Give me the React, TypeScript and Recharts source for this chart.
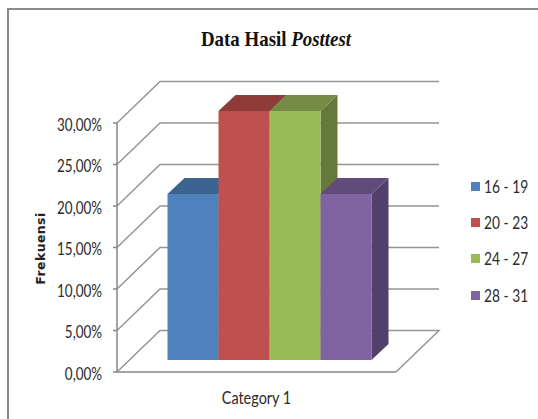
import { Bar, BarChart, CartesianGrid, Legend, XAxis, YAxis } from "recharts";

const categories = ["Category 1"];
const seriesNames = ["16 - 19", "20 - 23", "24 - 27", "28 - 31"];
const seriesValues = [20, 30, 30, 20];
const yTicks = [0, 5, 10, 15, 20, 25, 30];

const frontColors = ["#4f81bd", "#c0504d", "#9bbb59", "#8064a2"];
const topColors = ["#3d6491", "#8e3b39", "#748c43", "#604b7a"];
const sideColors = ["#355780", "#7d3432", "#657a3a", "#533f6b"];

const chartData = categories.map((category) => {
  const row: Record<string, string | number> = { category };
  seriesNames.forEach((name, i) => {
    row[name] = seriesValues[i];
  });
  return row;
});

const WALL_DX = 43;
const WALL_DY = 41.5;
const BAR_SHIFT_X = 12.5;
const BAR_SHIFT_Y = 12;
const BAR_DEPTH_X = 17;
const BAR_DEPTH_Y = 16;
const FLOOR_Y = 372;
const LINE_COLOR = "#959595";
const TEXT_FONT = "Lato, sans-serif";
const TEXT_COLOR = "#2b2b2b";

const formatPercent = (v: number) => `${v.toFixed(2).replace(".", ",")}%`;

const WallLine = (props: any) => {
  const { x1, x2, y1 } = props;
  const backY = y1 - WALL_DY;
  const isFloor = y1 >= FLOOR_Y - 1;
  const points = isFloor
    ? `${x1},${y1} ${x1 + WALL_DX},${backY} ${x2 + WALL_DX},${backY} ${x2},${y1}`
    : `${x1},${y1} ${x1 + WALL_DX},${backY} ${x2 + WALL_DX},${backY}`;
  return <polyline points={points} fill="none" stroke={LINE_COLOR} strokeWidth={1.5} />;
};

const Bar3D = (props: any) => {
  const { x, y, width, height, fill, topFill, sideFill } = props;
  const left = x + BAR_SHIFT_X;
  const top = y - BAR_SHIFT_Y;
  const right = left + width;
  const bottom = top + height;
  return (
    <g>
      <polygon
        points={`${right},${top} ${right + BAR_DEPTH_X},${top - BAR_DEPTH_Y} ${right + BAR_DEPTH_X},${bottom - BAR_DEPTH_Y} ${right},${bottom}`}
        fill={sideFill}
      />
      <polygon
        points={`${left},${top} ${left + BAR_DEPTH_X},${top - BAR_DEPTH_Y} ${right + BAR_DEPTH_X},${top - BAR_DEPTH_Y} ${right},${top}`}
        fill={topFill}
      />
      <rect x={left} y={top} width={width} height={height} fill={fill} />
    </g>
  );
};

// narrowed Lato stands in for the Calibri of the original
const YTick = ({ x, y, payload, tickFormatter }: any) => (
  <text
    transform={`translate(${x} ${y + 1}) scale(0.79 1)`}
    textAnchor="end"
    dominantBaseline="central"
    fontFamily={TEXT_FONT}
    fontSize={17}
    fill={TEXT_COLOR}
  >
    {tickFormatter ? tickFormatter(payload.value) : formatPercent(payload.value)}
  </text>
);

const XTick = ({ x, y, payload }: any) => (
  <text
    transform={`translate(${x} ${y + 5}) scale(0.85 1)`}
    textAnchor="middle"
    dominantBaseline="central"
    fontFamily={TEXT_FONT}
    fontSize={17}
    fill={TEXT_COLOR}
  >
    {payload.value}
  </text>
);

const LegendList = ({ payload }: any) => (
  <div style={{ fontFamily: TEXT_FONT, fontSize: 17, color: TEXT_COLOR }}>
    {(payload ?? []).map((entry: any) => (
      <div key={entry.value} style={{ display: "flex", alignItems: "center", height: 36.3 }}>
        <span style={{ width: 9, height: 9, background: entry.color, marginRight: 4 }} />
        <span style={{ whiteSpace: "nowrap", transform: "scaleX(0.81)", transformOrigin: "left center" }}>{entry.value}</span>
      </div>
    ))}
  </div>
);

const YLabel = ({ viewBox }: any) => {
  const cy = viewBox.y + viewBox.height / 2 + 1;
  return (
    <text
      x={41}
      y={cy}
      transform={`rotate(-90 41 ${cy})`}
      textAnchor="middle"
      dominantBaseline="middle"
      fontFamily="DejaVu Sans, sans-serif"
      fontWeight="bold"
      fontSize={12.5}
      letterSpacing={0.4}
      fill="#222"
    >
      Frekuensi
    </text>
  );
};

export default function App() {
  return (
    <div style={{ position: "absolute", left: 0, top: 0, width: 538, height: 419, overflow: "hidden", background: "#fff" }}>
      <div
        style={{
          position: "absolute",
          left: 7,
          top: 8,
          right: 0,
          bottom: 0,
          borderLeft: "2px solid #8a8a8a",
          borderTop: "2px solid #8a8a8a"
        }}
      />
      <div style={{ position: "absolute", left: 0, top: 0 }}>
        <BarChart
          width={538}
          height={419}
          data={chartData}
          margin={{ top: 123, right: 142, bottom: 7, left: 57 }}
          barCategoryGap={38}
          barGap={0}
        >
          <text
            transform="translate(276 46) scale(0.9 1)"
            textAnchor="middle"
            fontFamily="Liberation Serif, serif"
            fontWeight="bold"
            fontSize={21}
            fill="#111"
          >
            Data Hasil <tspan fontStyle="italic">Posttest</tspan>
          </text>
          <CartesianGrid vertical={false} horizontal={(p: any) => <WallLine key={p.key ?? p.index} {...p} />} />
          <XAxis
            dataKey="category"
            height={40}
            tickLine={false}
            stroke="#868686"
            strokeWidth={1.5}
            tickMargin={14}
            tick={<XTick />}
          />
          <YAxis
            width={60}
            domain={[0, 30]}
            ticks={yTicks}
            tickFormatter={formatPercent}
            tickSize={4}
            tickMargin={11}
            stroke="#868686"
            strokeWidth={1.5}
            tick={<YTick />}
            label={{ content: (p: any) => <YLabel {...p} /> }}
          />
          <Legend
            layout="vertical"
            align="center"
            verticalAlign="middle"
            content={<LegendList />}
            wrapperStyle={{ left: 471, top: 168, width: 70 }}
          />
          {seriesNames.map((name, i) => (
            <Bar
              key={name}
              dataKey={name}
              fill={frontColors[i]}
              isAnimationActive={false}
              shape={(p: any) => <Bar3D {...p} topFill={topColors[i]} sideFill={sideColors[i]} />}
            />
          ))}
        </BarChart>
      </div>
    </div>
  );
}
